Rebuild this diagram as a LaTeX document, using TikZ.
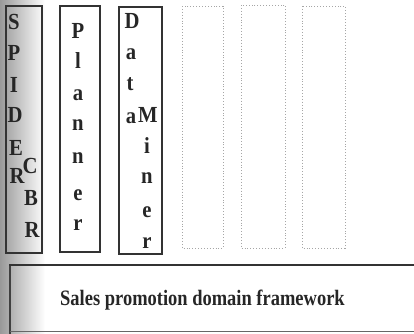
\documentclass[tikz,border=0pt]{standalone}
\usepackage{fontspec}
\setmainfont{Liberation Serif}
\newfontfamily\tbf[FakeStretch=0.9]{Liberation Serif Bold}
\newfontfamily\tbw[FakeStretch=0.84]{Liberation Serif Bold}
\begin{document}
\begin{tikzpicture}[x=1pt,y=-1pt,
  solidbox/.style={draw=black!80,line width=1.6pt},
  ghostbox/.style={draw=black!35,dotted,line width=0.9pt},
  letter/.style={font=\tbf\fontsize{23}{23}\selectfont,inner sep=0pt,text=black!85,anchor=base},
  basebox/.style={draw=black!75,line width=1.2pt}]
\useasboundingbox (0,0) rectangle (414,333);
\shade[left color=black!40,right color=white] (0,0) rectangle (45,333);
% solid boxes
\draw[solidbox] (6,6) rectangle (42,253);
\draw[solidbox] (60,6) rectangle (100,252);
\draw[solidbox] (119,7) rectangle (162,254);
% dotted boxes
\draw[ghostbox] (182,6) rectangle (223,248);
\draw[ghostbox] (241,5) rectangle (285,248);
\draw[ghostbox] (302,6) rectangle (345,248);
% SPIDER
\node[letter] (s1) at (14,29) {S};
\node[letter] (s2) at (14,60) {P};
\node[letter] (s3) at (14,92) {I};
\node[letter] (s4) at (15,122) {D};
\node[letter] (s5) at (16,155) {E};
\node[letter] (s6) at (17,183) {R};
\node[letter] (c1) at (30,173) {C};
\node[letter] (c2) at (31,205) {B};
\node[letter] (c3) at (32,237) {R};
% Planner
\node[letter] (p1) at (78,38) {P};
\node[letter] (p2) at (78,68) {l};
\node[letter] (p3) at (78,100) {a};
\node[letter] (p4) at (78,130) {n};
\node[letter] (p5) at (78,163) {n};
\node[letter] (p6) at (78,200) {e};
\node[letter] (p7) at (78,230) {r};
% Data Miner
\node[letter] (d1) at (132,28) {D};
\node[letter] (d2) at (131,59) {a};
\node[letter] (d3) at (130,90) {t};
\node[letter] (d4) at (131,123) {a};
\node[letter] (m1) at (148,122) {M};
\node[letter] (m2) at (147,153) {i};
\node[letter] (m3) at (147,183) {n};
\node[letter] (m4) at (147,217) {e};
\node[letter] (m5) at (147,248) {r};
% base framework
\draw[basebox] (10,265) -- (10,335);
\draw[draw=black!80,line width=2.4pt] (416,265) -- (9.4,265);
\draw[draw=black!60,line width=0.6pt] (10,331) -- (416,331);
\node[font=\tbw\fontsize{22}{22}\selectfont,text=black!85,inner sep=0pt,anchor=base west] (fw) at (60,305) {Sales promotion domain framework};
\end{tikzpicture}
\end{document}
